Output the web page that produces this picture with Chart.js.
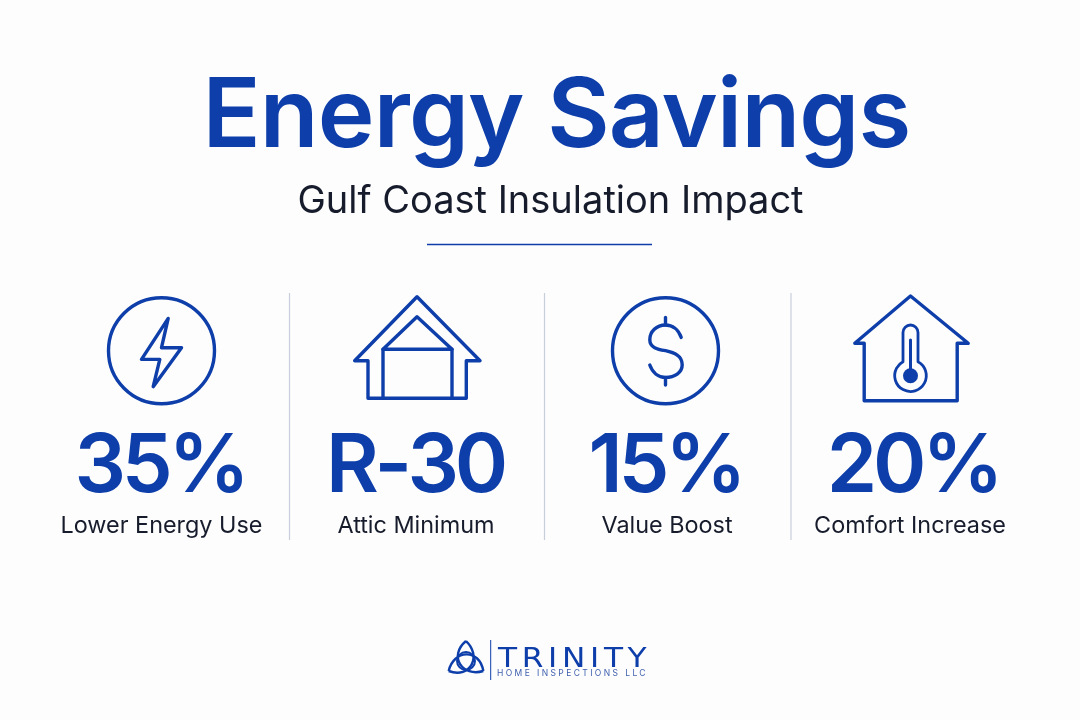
<!DOCTYPE html>
<html><head><meta charset="utf-8">
<style>html,body{margin:0;padding:0;background:#fdfdfd}canvas{display:block}</style>
<script src="https://cdn.jsdelivr.net/npm/chart.js@4"></script>
</head><body>
<canvas id="c" width="1080" height="720" style="width:1080px;height:720px"></canvas>
<script>
// ---- data ----
const title = "Energy Savings";
const subtitle = "Gulf Coast Insulation Impact";
const categories = ["Lower Energy Use", "Attic Minimum", "Value Boost", "Comfort Increase"];
const statValues = [35, 30, 15, 20];
const statLabels = ["35%", "R-30", "15%", "20%"];
const logoName = "TRINITY";
const logoTag = "HOME INSPECTIONS LLC";

// ---- style / layout ----
const BLUE = "#0d3eaa", INK = "#171c2c", RULE = "#c9cedb";
const FONT = "Inter, 'Liberation Sans', sans-serif";
const COL_NUDGE = [0.5, 5, 6, -1];
const VALUE_NUDGE = [-1.5, -1, -1.5, 3];
const ICON_NUDGE = [0, 1, -1.5, 0.5];
const DIVIDER_NUDGE = [3.5, 8.5, 5];

function line(ctx, pts, close) {
  ctx.beginPath();
  pts.forEach((p, i) => i ? ctx.lineTo(p[0], p[1]) : ctx.moveTo(p[0], p[1]));
  if (close) ctx.closePath();
  ctx.stroke();
}
function circle(ctx, x, y, r, fill) {
  ctx.beginPath(); ctx.arc(x, y, r, 0, Math.PI * 2);
  fill ? ctx.fill() : ctx.stroke();
}
const icons = [
  (ctx, x) => {
    circle(ctx, x, 350.7, 53);
    const y = 350.7;
    line(ctx, [[x+6.7,y-32.3],[x-20,y+8.7],[x-1.7,y+8.7],[x-8.3,y+36],[x+20,y-3],[x,y-3]], true);
  },
  (ctx, x) => {
    line(ctx, [[x-49,360.7],[x-62.3,360.7],[x,296.7],[x+63,360.7],[x+49.3,360.7],[x+49.3,398.3],[x-49,398.3]], true);
    line(ctx, [[x,316.7],[x-34,349.3],[x+35,349.3]], true);
    line(ctx, [[x-34,349.3],[x-34,398.3]]);
    line(ctx, [[x+35,349.3],[x+35,398.3]]);
  },
  (ctx, x) => {
    const y = 350.7;
    circle(ctx, x, y, 53);
    ctx.beginPath();
    ctx.moveTo(x+15.7,y-13.3);
    ctx.bezierCurveTo(x+13,y-21,x+7,y-25.7,x,y-25.7);
    ctx.bezierCurveTo(x-9,y-25.7,x-15.7,y-19,x-15.7,y-11);
    ctx.bezierCurveTo(x-15.7,y-3,x-8,y-1.5,x,y+0);
    ctx.bezierCurveTo(x+9,y+2,x+16.7,y+5,x+16.7,y+14);
    ctx.bezierCurveTo(x+16.7,y+22,x+9,y+26.7,x,y+26.7);
    ctx.bezierCurveTo(x-7,y+26.7,x-13,y+22,x-15.7,y+14.3);
    ctx.stroke();
    line(ctx, [[x,y-33.3],[x,y-25.7]]);
    line(ctx, [[x,y+26.7],[x,y+34.3]]);
  },
  (ctx, x) => {
    line(ctx, [[x-46.3,343.3],[x-55.7,343.3],[x,296],[x+57.7,343.3],[x+46.7,343.3],[x+46.7,400.7],[x-46.3,400.7]], true);
    ctx.lineWidth = 2.8;
    const a = Math.asin(7.5 / 15.8);
    ctx.beginPath();
    ctx.arc(x, 332.5, 7.5, Math.PI, 0);
    ctx.arc(x, 375.7, 15.8, -Math.PI/2 + a, -Math.PI/2 - a);
    ctx.closePath();
    ctx.stroke();
    ctx.lineWidth = 3;
    line(ctx, [[x,340],[x,372]]);
    circle(ctx, x, 375.7, 7.5, true);
  }
];
function logoMark(ctx, cx, cy) {
  ctx.lineWidth = 2.4;
  for (let k = 0; k < 3; k++) {
    ctx.save();
    ctx.translate(cx, cy);
    ctx.rotate(k * 2 * Math.PI / 3);
    ctx.beginPath();
    ctx.moveTo(0, -20);
    ctx.bezierCurveTo(-18, -5, -3.5, 16.5, 17.3, 10);
    ctx.stroke();
    ctx.restore();
  }
  ctx.lineWidth = 2;
  circle(ctx, cx, cy, 9);
}
function text(ctx, s, x, y, font, color, spacing, align) {
  ctx.font = font; ctx.fillStyle = color;
  ctx.letterSpacing = spacing || "0px";
  ctx.textAlign = align || "center"; ctx.textBaseline = "alphabetic";
  ctx.fillText(s, x, y);
  ctx.letterSpacing = "0px";
}

const infographic = {
  id: "infographic",
  beforeDraw(chart) {
    const ctx = chart.ctx;
    ctx.save(); ctx.fillStyle = "#fdfdfd"; ctx.fillRect(0, 0, chart.width, chart.height); ctx.restore();
  },
  afterDatasetsDraw(chart) {
    const ctx = chart.ctx, pts = chart.getDatasetMeta(0).data, xs = chart.scales.x;
    ctx.save();
    text(ctx, title, 556.5, 147, "600 96px " + FONT, BLUE, "-0.8px");
    text(ctx, subtitle, 550.5, 213, "400 38px " + FONT, INK);
    ctx.strokeStyle = BLUE; ctx.lineWidth = 1.6;
    line(ctx, [[427,244.5],[652,244.5]]);

    const step = xs.width / categories.length;
    DIVIDER_NUDGE.forEach((n, i) => {
      const x = xs.left + step * (i + 1) + n;
      ctx.strokeStyle = RULE; ctx.lineWidth = 1.2;
      line(ctx, [[x,293],[x,540]]);
    });
    pts.forEach((p, i) => {
      ctx.save();
      ctx.strokeStyle = BLUE; ctx.fillStyle = BLUE; ctx.lineWidth = 3.4;
      ctx.lineJoin = "round"; ctx.lineCap = "round";
      icons[i](ctx, p.x + ICON_NUDGE[i]);
      ctx.restore();
      text(ctx, statLabels[i], p.x + VALUE_NUDGE[i], 491.5, "600 81px " + FONT, BLUE, "-4.2px");
    });
    ctx.strokeStyle = BLUE; ctx.fillStyle = BLUE; ctx.lineJoin = "round";
    logoMark(ctx, 466, 661);
    ctx.lineWidth = 1;
    line(ctx, [[490.7,640],[490.7,680]]);
    ctx.save();
    ctx.translate(498, 666.5);
    ctx.scale(1.2, 1);
    text(ctx, logoName, 0, 0, "400 26px 'DejaVu Sans', sans-serif", BLUE, "3.9px", "left");
    ctx.restore();
    text(ctx, logoTag, 497, 675.5, "400 8.5px " + FONT, "#3f5fae", "2.4px", "left");
    ctx.restore();
  }
};

new Chart(document.getElementById("c"), {
  type: "line",
  data: {
    labels: categories,
    datasets: [{ label: "Impact", data: statValues, showLine: false, pointRadius: 0 }]
  },
  plugins: [infographic],
  options: {
    responsive: false, animation: false, devicePixelRatio: 1,
    layout: { padding: { left: 36, right: 44, top: 293, bottom: 178 } },
    plugins: { legend: { display: false }, tooltip: { enabled: false } },
    scales: {
      x: {
        offset: true,
        grid: { display: false }, border: { display: false },
        ticks: { color: INK, font: { family: FONT, size: 23.4, weight: "400" }, padding: 2, maxRotation: 0, autoSkip: false },
        afterFit(scale) {
          const base = Object.getPrototypeOf(scale).getPixelForValue;
          scale.getPixelForValue = function (v, i) {
            const n = typeof v === "number" ? v : this.parse(v);
            return base.call(this, v, i) + (COL_NUDGE[Math.round(n)] || 0);
          };
        }
      },
      y: { display: false, min: 0, max: 40 }
    }
  }
});
</script>
</body></html>
